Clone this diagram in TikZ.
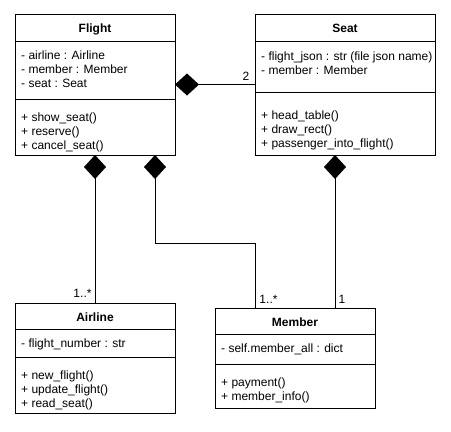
\documentclass[tikz,border=0pt]{standalone}
\usepackage{fontspec}
\setmainfont{Liberation Sans}
\usetikzlibrary{arrows.meta,calc}
\begin{document}
\begin{tikzpicture}[x=1pt,y=-1pt,
  box/.style={draw,line width=1pt,rectangle,inner sep=0pt,outer sep=0pt},
  ttl/.style={font=\fontsize{12}{14}\selectfont\bfseries,inner sep=0pt,anchor=base},
  txt/.style={font=\fontsize{12}{14}\selectfont,inner sep=0pt,anchor=base west},
  lbl/.style={font=\fontsize{12}{14}\selectfont,inner sep=0pt,anchor=base},
  sepline/.style={line width=1pt},
  comp/.style={line width=1pt,{Diamond[length=24pt,width=22pt,fill=black]}-}]
\useasboundingbox (0,0) rectangle (451,432);

% ---------- Flight ----------
\node[box,minimum width=160pt,minimum height=141pt] (flight) at (95,84.5) {};
\draw[sepline] (15,41) -- (175,41);
\draw[sepline] (15,99) -- (175,99);
\node[ttl] (flightT) at (95,32) {Flight};
\node[txt] (flightA1) at (21,59) {- airline : Airline};
\node[txt] (flightA2) at (21,73) {- member : Member};
\node[txt] (flightA3) at (21,87) {- seat : Seat};
\node[txt] (flightM1) at (21,121) {+ show\_seat()};
\node[txt] (flightM2) at (21,135) {+ reserve()};
\node[txt] (flightM3) at (21,149) {+ cancel\_seat()};

% ---------- Seat ----------
\node[box,minimum width=180pt,minimum height=141pt] (seat) at (345,84.5) {};
\draw[sepline] (255,41) -- (435,41);
\draw[sepline] (255,92) -- (435,92);
\node[ttl] (seatT) at (345,32) {Seat};
\node[txt] (seatA1) at (261,60) {- flight\_json : str (file json name)};
\node[txt] (seatA2) at (261,74) {- member : Member};
\node[txt] (seatM1) at (261,119) {+ head\_table()};
\node[txt] (seatM2) at (261,133) {+ draw\_rect()};
\node[txt] (seatM3) at (261,147) {+ passenger\_into\_flight()};

% ---------- Airline ----------
\node[box,minimum width=160pt,minimum height=110pt] (airline) at (95,358) {};
\draw[sepline] (15,329) -- (175,329);
\draw[sepline] (15,357) -- (175,357);
\node[ttl] (airlineT) at (95,321) {Airline};
\node[txt] (airlineA1) at (21,347) {- flight\_number : str};
\node[txt] (airlineM1) at (21,379) {+ new\_flight()};
\node[txt] (airlineM2) at (21,393) {+ update\_flight()};
\node[txt] (airlineM3) at (21,407) {+ read\_seat()};

% ---------- Member ----------
\node[box,minimum width=160pt,minimum height=100pt] (member) at (295,358) {};
\draw[sepline] (215,334) -- (375,334);
\draw[sepline] (215,364) -- (375,364);
\node[ttl] (memberT) at (295,326) {Member};
\node[txt] (memberA1) at (221,352) {- self.member\_all : dict};
\node[txt] (memberM1) at (221,386) {+ payment()};
\node[txt] (memberM2) at (221,400) {+ member\_info()};

% ---------- Connectors ----------
\draw[comp] (flight.east) -- (seat.west);
\node[lbl] (m2) at (246,80) {2};

\draw[comp] (flight.south) -- (airline.north);
\node[lbl] (ma) at (82.5,297) {1..*};

\coordinate (fm) at ($(flight.south east)+(-20,0)$);
\coordinate (mf) at ($(member.north west)+(40,0)$);
\draw[comp] (fm) -- (fm |- 0,243) -- (mf |- 0,243) -- (mf);
\node[lbl] (mm) at (268.5,303) {1..*};

\coordinate (sm) at ($(seat.south)+(-10,0)$);
\draw[comp] (sm) -- (sm |- member.north);
\node[lbl] (ms) at (342,303) {1};
\end{tikzpicture}
\end{document}
